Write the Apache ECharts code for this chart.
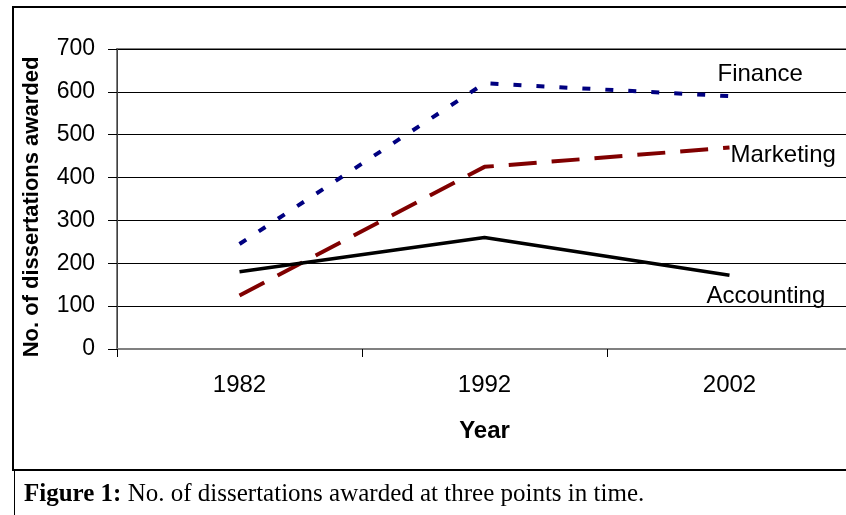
<!DOCTYPE html>
<html>
<head>
<meta charset="utf-8">
<script src="https://cdn.jsdelivr.net/npm/echarts@6/dist/echarts.min.js"></script>
<style>
html,body{margin:0;padding:0;background:#fff;}
#chart{width:846px;height:515px;}
</style>
</head>
<body>
<div id="chart"></div>
<script>
const categories = ['1982', '1992', '2002'];
const finance = [245, 620, 590];
const marketing = [125, 425, 470];
const accounting = [180, 260, 172];
const yTicks = [0, 100, 200, 300, 400, 500, 600, 700];

const chart = echarts.init(document.getElementById('chart'));
const font = 'Liberation Sans, Arial, sans-serif';
const serif = 'Liberation Serif, Times New Roman, serif';
chart.setOption({
  animation: false,
  backgroundColor: '#fff',
  grid: {
    left: 117, top: 49, right: -6, bottom: 166,
    outerBoundsMode: 'none',
    show: true, borderColor: '#808080', borderWidth: 2
  },
  xAxis: {
    type: 'category',
    data: categories,
    boundaryGap: true,
    name: 'Year',
    nameLocation: 'middle',
    nameGap: 70,
    nameTextStyle: {fontFamily: font, fontSize: 24, fontWeight: 'bold', color: '#000'},
    axisLine: {lineStyle: {color: '#808080', width: 2}},
    axisTick: {show: true, interval: 0, length: 8, lineStyle: {color: '#000', width: 1}},
    axisLabel: {fontFamily: font, fontSize: 24, color: '#000', margin: 24},
    splitLine: {show: false}
  },
  yAxis: {
    type: 'value',
    min: yTicks[0], max: yTicks[yTicks.length - 1], interval: 100,
    name: 'No. of dissertations awarded',
    nameLocation: 'middle',
    nameGap: 74,
    nameRotate: 90,
    nameTextStyle: {fontFamily: font, fontSize: 22, fontWeight: 'bold', color: '#000', padding: [0, 16, 0, 0]},
    axisLine: {show: true, lineStyle: {color: '#404040', width: 1}},
    axisTick: {show: true, length: 9, lineStyle: {color: '#000', width: 1}},
    axisLabel: {fontFamily: font, fontSize: 23, color: '#000', margin: 22},
    splitLine: {show: true, lineStyle: {color: '#000', width: 1}}
  },
  series: [
    {
      name: 'Finance', type: 'line', data: finance, symbol: 'none',
      lineStyle: {color: '#000080', width: 4, type: [8, 15]},
      endLabel: {show: true, formatter: '{a}', fontFamily: font, fontSize: 24, color: '#000', offset: [-20, -22]}
    },
    {
      name: 'Marketing', type: 'line', data: marketing, symbol: 'none',
      lineStyle: {color: '#800000', width: 4, type: [28, 15]},
      endLabel: {show: true, formatter: '{a}', fontFamily: font, fontSize: 24, color: '#000', offset: [-7, 8]}
    },
    {
      name: 'Accounting', type: 'line', data: accounting, symbol: 'none',
      lineStyle: {color: '#000', width: 3.5},
      endLabel: {show: true, formatter: '{a}', fontFamily: font, fontSize: 24, color: '#000', offset: [-31, 21]}
    }
  ],
  graphic: [
    {type: 'line', shape: {x1: 13, y1: 7, x2: 846, y2: 7}, style: {stroke: '#000', lineWidth: 2}},
    {type: 'line', shape: {x1: 13, y1: 6, x2: 13, y2: 471}, style: {stroke: '#000', lineWidth: 2}},
    {type: 'line', shape: {x1: 13, y1: 470, x2: 846, y2: 470}, style: {stroke: '#000', lineWidth: 2}},
    {type: 'line', shape: {x1: 14.5, y1: 470, x2: 14.5, y2: 515}, style: {stroke: '#000', lineWidth: 1}},
    {
      type: 'text', left: 24, top: 482,
      style: {
        text: '{b|Figure 1:} No. of dissertations awarded at three points in time.',
        rich: {b: {fontWeight: 'bold', fontFamily: serif, fontSize: 25, fill: '#000'}},
        fontFamily: serif, fontSize: 25, fill: '#000'
      }
    }
  ]
});
</script>
</body>
</html>
